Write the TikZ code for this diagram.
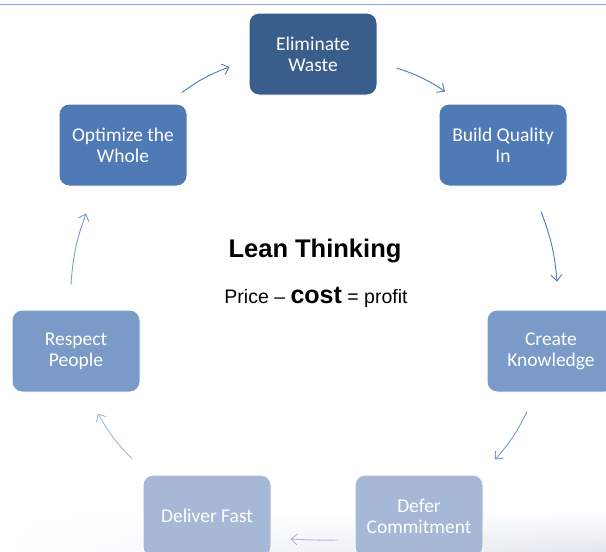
\documentclass[tikz,border=0pt]{standalone}
\usepackage{fontspec}
\setmainfont{Liberation Sans}
\newfontfamily\boxfont{Carlito}
\usetikzlibrary{arrows.meta,calc}
\definecolor{cDark}{HTML}{3A5E8C}
\definecolor{cMid}{HTML}{4F7AB5}
\definecolor{cLight}{HTML}{7A9BC8}
\definecolor{cPale}{HTML}{A6B8D6}
\definecolor{cLine}{HTML}{8EAAD6}
\definecolor{cFloor}{HTML}{E3E8EF}
\tikzset{
  stepbox/.style={draw=white, line width=1pt, rounded corners=10pt,
    minimum width=128pt, minimum height=82pt, inner sep=0pt,
    text=white, align=center,
    font=\boxfont\fontsize{19.5}{21}\selectfont},
  flow/.style={line width=0.9pt, -{Straight Barb[length=6pt,width=11pt,line width=0.9pt]}}
}
\begin{document}
\begin{tikzpicture}[x=1pt,y=1pt]
\useasboundingbox (0,0) rectangle (606,-552);
\clip (0,0) rectangle (606,-552);
\fill[white] (0,0) rectangle (606,-552);
% floor gradient
\foreach \i in {0,...,11} {
  \pgfmathsetmacro{\k}{(\i+1)*100/12}
  \fill[left color=white, right color=cFloor!\k!white] (0,{-512-\i*3.5}) rectangle (606,{-512-(\i+1)*3.5-0.3});
}
% top rule
\draw[cLine, line width=1.2pt] (0,-4.5) -- (606,-4.5);

\node[stepbox, fill=cDark]  (ew) at (313,-54)  {Eliminate\\Waste};
\node[stepbox, fill=cMid]   (bq) at (503,-145) {Build Quality\\In};
\node[stepbox, fill=cLight] (ck) at (551,-351) {Create\\Knowledge};
\node[stepbox, fill=cPale]  (dc) at (419,-516) {Defer\\Commitment};
\node[stepbox, fill=cPale]  (df) at (207,-516) {Deliver Fast};
\node[stepbox, fill=cLight] (rp) at (76,-351)  {Respect\\People};
\node[stepbox, fill=cMid]   (ow) at (123,-145) {Optimize the\\Whole};

\node[font=\bfseries\fontsize{25.5}{28}\selectfont] (title) at (315,-251) {Lean Thinking};
\node[font=\fontsize{19.5}{22}\selectfont, anchor=base] (eq) at (316,-303)
  {Price -- {\bfseries\fontsize{25}{26}\selectfont cost} = profit};

\draw[flow, cMid]   ($(ew.east)+(19,-14)$)  to[bend left=8]  ($(bq.north)+(-58,12)$);
\draw[flow, cMid]   ($(bq.south)+(38,-25)$) to[bend left=8]  ($(ck.north)+(6,28)$);
\draw[flow, cLight] ($(ck.south)+(-24,-19)$) to[bend left=8] ($(dc.north)+(76,15)$);
\draw[flow, cPale]  ($(dc.west)+(-17,-24)$) to[bend left=2]  ($(df.east)+(19,-23)$);
\draw[flow, cPale]  ($(df.north)+(-75,16)$) to[bend left=8]  ($(rp.south)+(22,-21)$);
\draw[flow, cLight] ($(rp.north)+(-5,25)$)  to[bend left=8]  ($(ow.south)+(-37,-27)$);
\draw[flow, cMid]   ($(ow.north)+(59,11)$)  to[bend left=8]  ($(ew.west)+(-19,-13)$);
\end{tikzpicture}
\end{document}
